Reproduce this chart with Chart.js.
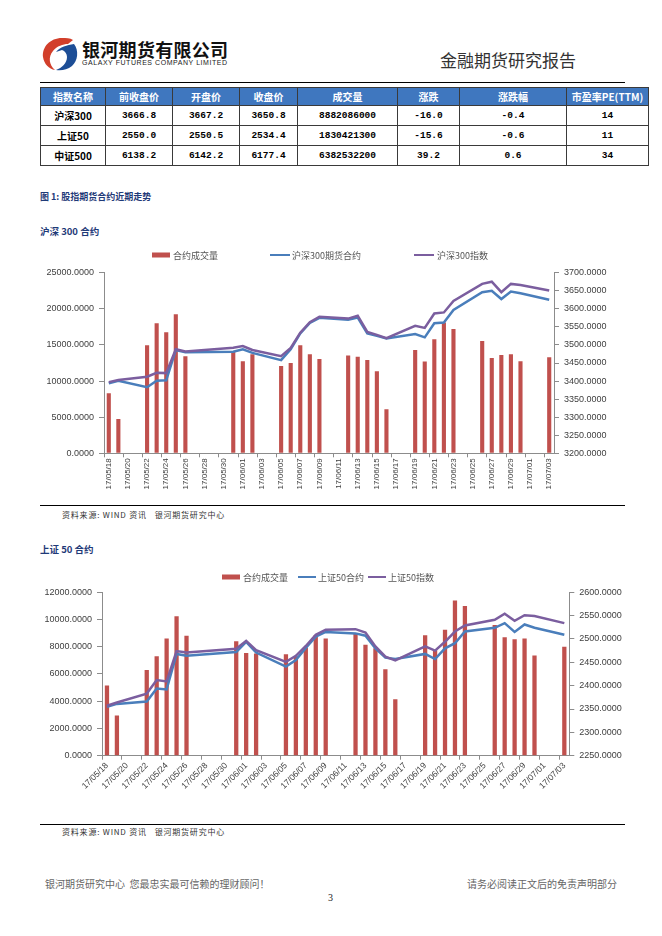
<!DOCTYPE html>
<html><head><meta charset="utf-8">
<script src="https://cdn.jsdelivr.net/npm/chart.js@4/dist/chart.umd.min.js"></script>
<style>
html,body{margin:0;padding:0;background:#fff;}
body{width:662px;height:936px;position:relative;overflow:hidden;font-family:"Noto Sans CJK SC","Liberation Sans",sans-serif;}
.abs{position:absolute;white-space:nowrap;}
.rule{position:absolute;left:40px;width:585px;height:0;border-top:1px solid #000;}
table.q{position:absolute;left:40px;top:87px;border-collapse:collapse;table-layout:fixed;width:608px;}
table.q td,table.q th{border:1px solid #3a3a3a;text-align:center;padding:0;font-size:10px;line-height:12px;}
table.q th{background:#3f77bf;color:#fff;font-weight:bold;height:17px;}
table.q td{color:#000;height:19px;font-family:"Liberation Mono","DejaVu Sans Mono",monospace;font-weight:bold;font-size:9.5px;}
table.q td.n{font-family:"Noto Sans CJK SC",sans-serif;font-size:10px;}
.ttl{color:#1f3a78;font-weight:bold;font-size:9px;}
.src{font-size:8px;color:#333;letter-spacing:0.8px;}
.foot{font-size:10px;color:#666;}
canvas{position:absolute;left:0;}
</style></head>
<body>
<svg class="abs" style="left:40px;top:36px" width="40" height="36" viewBox="0 0 40 36">
<path d="M22,2 C10,2 2,11 3,21 C4,28 9,33 15,34 C9,29 8,21 13,15 C17,10 23,8 28,8 L33,4 C30,2 26,2 22,2 Z" fill="#d23f2b"/>
<path d="M34,8 C39,14 38,25 32,30 C27,34 21,35 16,34 C22,32 27,27 27,21 C27,18 25,15 22,14 L16,16 C20,11 27,9 34,8 Z" fill="#1d4e96"/>
</svg>
<div class="abs" style="left:82px;top:36px;font-size:18px;font-weight:bold;color:#111;letter-spacing:0.3px;">银河期货有限公司</div>
<div class="abs" style="left:82px;top:59px;font-size:7px;color:#222;font-family:'Liberation Sans',sans-serif;letter-spacing:0.55px;">GALAXY FUTURES COMPANY LIMITED</div>
<div class="abs" style="left:440px;top:47px;font-size:17px;color:#333;">金融期货研究报告</div>
<div class="rule" style="top:82px;"></div>

<table class="q">
<colgroup><col style="width:65px"><col style="width:67px"><col style="width:67px"><col style="width:58px"><col style="width:100px"><col style="width:62px"><col style="width:107px"><col style="width:82px"></colgroup>
<tr><th>指数名称</th><th>前收盘价</th><th>开盘价</th><th>收盘价</th><th>成交量</th><th>涨跌</th><th>涨跌幅</th><th>市盈率PE(TTM)</th></tr>
<tr><td class="n">沪深300</td><td>3666.8</td><td>3667.2</td><td>3650.8</td><td>8882086000</td><td>-16.0</td><td>-0.4</td><td>14</td></tr>
<tr><td class="n">上证50</td><td>2550.0</td><td>2550.5</td><td>2534.4</td><td>1830421300</td><td>-15.6</td><td>-0.6</td><td>11</td></tr>
<tr><td class="n">中证500</td><td>6138.2</td><td>6142.2</td><td>6177.4</td><td>6382532200</td><td>39.2</td><td>0.6</td><td>34</td></tr>
</table>

<div class="abs ttl" style="left:40px;top:190px;">图 1: 股指期货合约近期走势</div>
<div class="abs ttl" style="left:40px;top:224px;font-size:9.5px;">沪深 300 合约</div>
<canvas id="c1" width="662" height="260" style="top:240px;"></canvas>
<div class="rule" style="top:505px;"></div>
<div class="abs src" style="left:62px;top:509px;">资料来源: WIND 资讯&nbsp;&nbsp;&nbsp;银河期货研究中心</div>

<div class="abs ttl" style="left:40px;top:542px;font-size:9.5px;">上证 50 合约</div>
<canvas id="c2" width="662" height="255" style="top:560px;"></canvas>
<div class="rule" style="top:824px;"></div>
<div class="abs src" style="left:62px;top:826px;">资料来源: WIND 资讯&nbsp;&nbsp;&nbsp;银河期货研究中心</div>

<div class="abs foot" style="left:45px;top:876px;">银河期货研究中心&nbsp;&nbsp;您最忠实最可信赖的理财顾问！</div>
<div class="abs foot" style="left:467px;top:876px;">请务必阅读正文后的免责声明部分</div>
<div class="abs" style="left:328px;top:892px;font-size:10px;color:#222;font-family:'Liberation Serif',serif;">3</div>

<script>
// ---- data ----
const calendarDays = ['17/05/18','17/05/19','17/05/20','17/05/21','17/05/22','17/05/23','17/05/24','17/05/25','17/05/26','17/05/27','17/05/28','17/05/29','17/05/30','17/05/31',
 '17/06/01','17/06/02','17/06/03','17/06/04','17/06/05','17/06/06','17/06/07','17/06/08','17/06/09','17/06/10','17/06/11','17/06/12','17/06/13','17/06/14','17/06/15',
 '17/06/16','17/06/17','17/06/18','17/06/19','17/06/20','17/06/21','17/06/22','17/06/23','17/06/24','17/06/25','17/06/26','17/06/27','17/06/28','17/06/29','17/06/30',
 '17/07/01','17/07/02','17/07/03'];
const tradeDays = ['17/05/18','17/05/19','17/05/22','17/05/23','17/05/24','17/05/25','17/05/26','17/05/31','17/06/01','17/06/02',
 '17/06/05','17/06/06','17/06/07','17/06/08','17/06/09','17/06/12','17/06/13','17/06/14','17/06/15','17/06/16',
 '17/06/19','17/06/20','17/06/21','17/06/22','17/06/23','17/06/26','17/06/27','17/06/28','17/06/29','17/06/30','17/07/03'];

const hs300Volume  = [8300,4750,14950,18000,16750,19250,13450,14150,12750,13700,12100,12500,14950,13700,13050,13550,13350,12900,11350,6100,14300,12700,15800,18100,17200,15550,13200,13600,13700,12750,13300];
const hs300Futures = [3394,3401,3383,3401,3402,3486,3480,3481,3488,3478,3458,3488,3532,3561,3575,3570,3576,3532,3525,3518,3530,3521,3560,3562,3597,3646,3650,3627,3648,3643,3625];
const hs300Index   = [3397,3403,3412,3423,3422,3488,3482,3492,3497,3486,3469,3492,3534,3563,3578,3573,3581,3536,3528,3519,3553,3547,3587,3590,3622,3669,3675,3646,3669,3666,3651];

const sz50Volume  = [5150,2950,6300,7300,8600,10250,8800,8400,7550,7500,7450,7300,7950,8850,8600,8950,8150,7900,6350,4150,8850,7750,9250,11400,11000,9600,8700,8550,8600,7350,8000];
const sz50Futures = [2355,2361,2366,2394,2392,2468,2464,2472,2494,2471,2441,2455,2481,2505,2515,2512,2507,2480,2460,2457,2468,2457,2480,2491,2516,2524,2534,2515,2531,2524,2509];
const sz50Index   = [2357,2364,2383,2412,2409,2474,2471,2479,2496,2476,2451,2464,2485,2509,2520,2521,2514,2484,2462,2454,2484,2475,2494,2516,2529,2541,2554,2539,2551,2549,2534];

const hs300VolTicks = [0,5000,10000,15000,20000,25000];
const hs300PxTicks  = [3200,3250,3300,3350,3400,3450,3500,3550,3600,3650,3700];
const sz50VolTicks  = [0,2000,4000,6000,8000,10000,12000];
const sz50PxTicks   = [2250,2300,2350,2400,2450,2500,2550,2600];

const legend300 = ['合约成交量','沪深300期货合约','沪深300指数'];
const legend50  = ['合约成交量','上证50合约','上证50指数'];

// ---- styles ----
const RED = '#c0504d', BLUE = '#4a7ebb', PURPLE = '#7b5e9f', AXIS = '#8c8c8c', TXT = '#404040';

const toPts = vals => tradeDays.map((d, i) => ({x: d, y: vals[i]}));

const legendPlugin = {
  id: 'excelLegend',
  afterDraw(chart, args, opts) {
    const ctx = chart.ctx;
    ctx.save();
    ctx.font = opts.font;
    ctx.textBaseline = 'middle';
    opts.items.forEach((it, i) => {
      const ds = chart.data.datasets[i];
      if (ds.type === 'bar') {
        ctx.fillStyle = ds.backgroundColor;
        ctx.fillRect(it.x, opts.y - 2.5, it.w, 5);
      } else {
        ctx.strokeStyle = ds.borderColor;
        ctx.lineWidth = 2;
        ctx.beginPath(); ctx.moveTo(it.x, opts.y); ctx.lineTo(it.x + it.w, opts.y); ctx.stroke();
      }
      ctx.fillStyle = '#555';
      ctx.fillText(ds.label, it.tx, opts.y + 0.5);
    });
    ctx.restore();
  }
};

function makeChart(id, cfg) {
  const fixW = w => (s => { s.width = w; });
  new Chart(document.getElementById(id), {
    data: {
      labels: calendarDays,
      datasets: [
        {type: 'bar', label: cfg.legend[0], data: toPts(cfg.vol), backgroundColor: RED, yAxisID: 'y',
         categoryPercentage: 1, barPercentage: 0.43, order: 3},
        {type: 'line', label: cfg.legend[1], data: toPts(cfg.fut), borderColor: BLUE, backgroundColor: BLUE, borderWidth: 2.5,
         pointRadius: 0, tension: 0, yAxisID: 'y1', order: 2},
        {type: 'line', label: cfg.legend[2], data: toPts(cfg.idx), borderColor: PURPLE, backgroundColor: PURPLE, borderWidth: 2.5,
         pointRadius: 0, tension: 0, yAxisID: 'y1', order: 1}
      ]
    },
    options: {
      responsive: false, animation: false, devicePixelRatio: 1,
      layout: {padding: {top: cfg.padTop, left: 0, right: 0, bottom: 0}},
      plugins: {
        legend: {display: false}, tooltip: {enabled: false},
        excelLegend: {font: '9px "Noto Sans CJK SC", sans-serif', y: cfg.legendY, items: cfg.legendItems}
      },
      scales: {
        x: {
          type: 'category', offset: true,
          afterFit: s => { s.height = cfg.xHeight; },
          border: {display: true, color: AXIS, width: 1},
          grid: {offset: true, drawOnChartArea: false, drawTicks: true, tickLength: 4,
                 color: c => (c.index % 2 === 0 ? AXIS : 'rgba(0,0,0,0)')},
          ticks: {autoSkip: false, minRotation: cfg.rot, maxRotation: cfg.rot, padding: 1,
                  color: TXT, font: {family: 'Liberation Sans', size: cfg.xFont},
                  callback: function(v, i) { return i % 2 === 0 ? this.getLabelForValue(v) : ''; }}
        },
        y: {
          position: 'left', min: cfg.volTicks[0], max: cfg.volTicks[cfg.volTicks.length - 1],
          afterFit: fixW(cfg.left),
          afterBuildTicks: s => { s.ticks = cfg.volTicks.map(v => ({value: v})); },
          border: {display: true, color: AXIS},
          grid: {drawOnChartArea: false, tickLength: 5, color: AXIS},
          ticks: {padding: 5, color: TXT, font: {family: 'Liberation Sans', size: 9}, callback: v => v.toFixed(4)}
        },
        y1: {
          position: 'right', min: cfg.pxTicks[0], max: cfg.pxTicks[cfg.pxTicks.length - 1],
          afterFit: fixW(662 - cfg.right),
          afterBuildTicks: s => { s.ticks = cfg.pxTicks.map(v => ({value: v})); },
          border: {display: true, color: AXIS},
          grid: {drawOnChartArea: false, tickLength: 5, color: AXIS},
          ticks: {padding: 5, color: TXT, font: {family: 'Liberation Sans', size: 9}, callback: v => v.toFixed(4)}
        }
      }
    },
    plugins: [legendPlugin]
  });
}

makeChart('c1', {
  vol: hs300Volume, fut: hs300Futures, idx: hs300Index, legend: legend300,
  volTicks: hs300VolTicks, pxTicks: hs300PxTicks,
  padTop: 32.7, xHeight: 46.7, left: 104, right: 554, rot: 90, xFont: 8, legendY: 15,
  legendItems: [{x: 152, w: 18, tx: 173}, {x: 270, w: 20, tx: 292}, {x: 414, w: 20, tx: 437}]
});
makeChart('c2', {
  vol: sz50Volume, fut: sz50Futures, idx: sz50Index, legend: legend50,
  volTicks: sz50VolTicks, pxTicks: sz50PxTicks,
  padTop: 32.3, xHeight: 59.3, left: 102, right: 569.3, rot: 45, xFont: 8.5, legendY: 17,
  legendItems: [{x: 222, w: 18, tx: 243}, {x: 298, w: 18, tx: 318}, {x: 368, w: 18, tx: 388}]
});
</script>
</body></html>
